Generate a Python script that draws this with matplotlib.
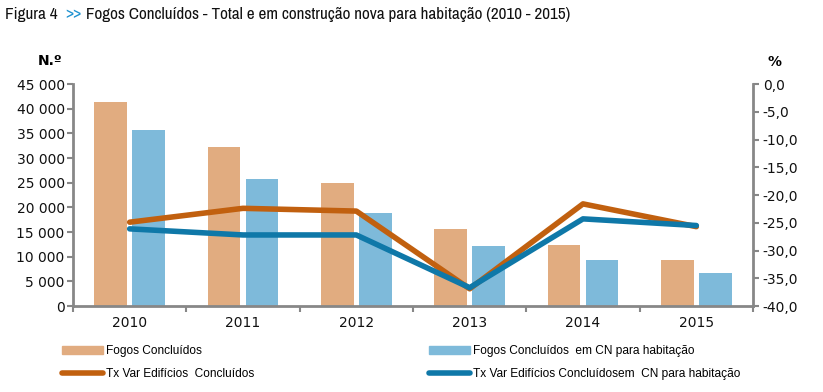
import matplotlib
matplotlib.use("Agg")
import numpy as np
import matplotlib.pyplot as plt
from matplotlib import font_manager
from matplotlib.patches import Patch
from matplotlib.lines import Line2D
from matplotlib.ticker import FuncFormatter, MultipleLocator

years = ["2010", "2011", "2012", "2013", "2014", "2015"]
fogos = [41400, 32200, 24900, 15600, 12400, 9300]
fogos_cn = [35700, 25800, 18800, 12100, 9300, 6700]
tx_edif = [-24.9, -22.4, -22.9, -36.9, -21.6, -25.7]
tx_edif_cn = [-26.1, -27.2, -27.2, -36.7, -24.3, -25.5]

c_bar1 = "#E1AC80"
c_bar2 = "#7EBADA"
c_line1 = "#C1600F"
c_line2 = "#0F78A8"
c_spine = "#878787"
tick_font = "DejaVu Sans"
legend_font = ["Liberation Sans", "DejaVu Sans"]

# look for a condensed face for the title, like the narrow font in the original
narrow = [f.name for f in font_manager.fontManager.ttflist
          if "Narrow" in f.name or "Condensed" in f.name]
title_font = sorted(set(narrow))[:1] + ["Liberation Sans", "DejaVu Sans"]

fig = plt.figure(figsize=(8.23, 3.92), dpi=100)
ax = fig.add_axes([73 / 823, 1 - 306 / 392, 680 / 823, 222 / 392])
ax2 = ax.twinx()

x = np.arange(len(years))
w = 0.29
ax.bar(x - 0.168, fogos, w, color=c_bar1, zorder=2)
ax.bar(x + 0.168, fogos_cn, w, color=c_bar2, zorder=2)

ax2.plot(x, tx_edif, color=c_line1, lw=4, solid_capstyle="round")
ax2.plot(x, tx_edif_cn, color=c_line2, lw=4, solid_capstyle="round")

ax.set_xlim(-0.5, len(years) - 0.5)
ax.set_ylim(0, 45000)
ax2.set_ylim(-40, 0)
ax.yaxis.set_major_locator(MultipleLocator(5000))
ax2.yaxis.set_major_locator(MultipleLocator(5))
ax.yaxis.set_major_formatter(FuncFormatter(lambda v, p: f"{v:,.0f}".replace(",", " ")))
ax2.yaxis.set_major_formatter(FuncFormatter(lambda v, p: f"{v:.1f}".replace(".", ",").replace("-0,0", "0,0")))

ax.set_xticks(x)
ax.set_xticklabels(years)
ax.set_xticks(np.arange(len(years) + 1) - 0.5, minor=True)
ax.tick_params(axis="x", which="major", length=0, pad=7)
ax.tick_params(axis="x", which="minor", length=4, width=1.5, color=c_spine)

for a in (ax, ax2):
    for s in a.spines.values():
        s.set_color(c_spine)
        s.set_linewidth(2)
    a.spines["top"].set_visible(False)
ax.spines["right"].set_visible(False)
ax2.spines["left"].set_visible(False)
ax2.spines["bottom"].set_visible(False)

ax.tick_params(axis="y", length=4, width=1.5, color=c_spine, pad=2)
ax2.tick_params(axis="y", length=4, width=1.5, color=c_spine, pad=3)
for lab in ax.get_yticklabels() + ax2.get_yticklabels() + ax.get_xticklabels():
    lab.set_fontfamily(tick_font)
    lab.set_fontsize(10)
    lab.set_color("#111111")

fig.text(50 / 823, 1 - 61 / 392, "N.º", fontsize=10, fontweight="bold",
         family=tick_font, ha="center", va="center")
fig.text(774 / 823, 1 - 62 / 392, "%", fontsize=10, fontweight="bold",
         family=tick_font, ha="center", va="center")

# title in three pieces so the >> can be blue
renderer = fig.canvas.get_renderer()
pieces = [("Figura 4  ", "#111111", "normal"), (">>", "#1F92D0", "bold"),
          (" Fogos Concluídos - Total e em construção nova para habitação (2010 - 2015)", "#111111", "normal")]
size = 14.5
total = 0
for s, col, wt in pieces:
    t = fig.text(0, 0, s, fontsize=size, fontweight=wt, family=title_font)
    total += t.get_window_extent(renderer).width
    t.remove()
size = min(15, size * 565 / total)
tx = 5
for s, col, wt in pieces:
    t = fig.text(tx / 823, 1 - 14 / 392, s, fontsize=size, color=col, fontweight=wt,
                 family=title_font, ha="left", va="center")
    tx += t.get_window_extent(renderer).width

h1 = [Patch(color=c_bar1), Line2D([], [], color=c_line1, lw=4, solid_capstyle="round")]
l1 = ["Fogos Concluídos", "Tx Var Edifícios  Concluídos"]
h2 = [Patch(color=c_bar2), Line2D([], [], color=c_line2, lw=4, solid_capstyle="round")]
l2 = ["Fogos Concluídos  em CN para habitação", "Tx Var Edifícios Concluídosem  CN para habitação"]
for hs, ls, x0 in ((h1, l1, 62), (h2, l2, 429)):
    fig.legend(hs, ls, loc="upper left", bbox_to_anchor=(x0 / 823, 1 - 345 / 392),
               frameon=False, borderpad=0, borderaxespad=0, handlelength=3.4,
               handleheight=0.6, handletextpad=0.3, labelspacing=0.9,
               prop={"family": legend_font, "size": 8.6})

fig.savefig("out.png", dpi=100)
